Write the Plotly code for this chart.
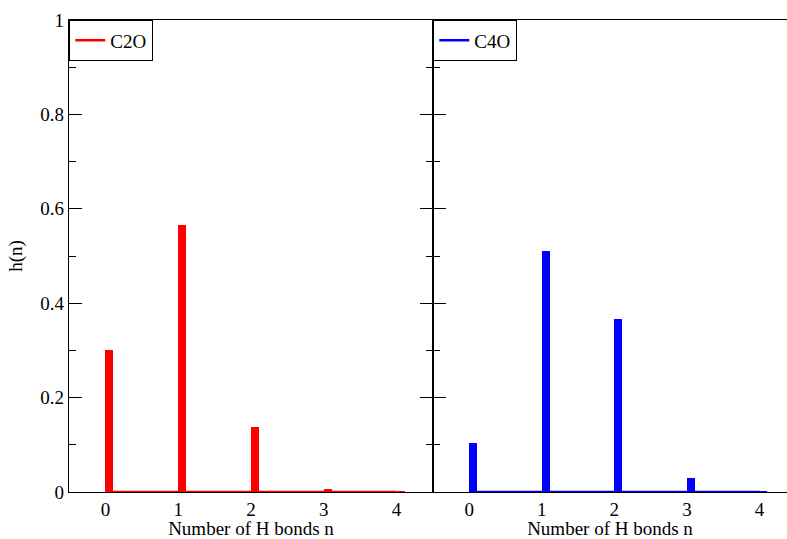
import plotly.graph_objects as go

n_bonds = [0, 1, 2, 3, 4]
h_c2o = [0.300, 0.565, 0.138, 0.007, 0.001]
h_c4o = [0.104, 0.510, 0.367, 0.029, 0.001]
zero_line = [0, 0, 0, 0, 0]
y_ticks = [0, 0.2, 0.4, 0.6, 0.8, 1]
y_tick_labels = ["0", "0.2", "0.4", "0.6", "0.8", "1"]

RED = "#ff0000"
BLUE = "#0000ff"
FONT = "Liberation Serif, Times New Roman, serif"
FS = 19
TFS = 19

fig = go.Figure()
fig.add_trace(go.Bar(x=n_bonds, y=h_c2o, marker=dict(color=RED, line=dict(width=0)),
                     width=0.11, offset=0, showlegend=False, xaxis="x", yaxis="y"))
fig.add_trace(go.Scatter(x=n_bonds, y=zero_line, mode="lines", name="C2O", cliponaxis=False,
                         line=dict(color=RED, width=2.5), xaxis="x", yaxis="y", legend="legend"))
fig.add_trace(go.Bar(x=n_bonds, y=h_c4o, marker=dict(color=BLUE, line=dict(width=0)),
                     width=0.11, offset=0, showlegend=False, xaxis="x2", yaxis="y2"))
fig.add_trace(go.Scatter(x=n_bonds, y=zero_line, mode="lines", name="C4O", cliponaxis=False,
                         line=dict(color=BLUE, width=2.5), xaxis="x2", yaxis="y2", legend="legend2"))

split = 364 / 718

axis_common = dict(showline=True, linecolor="black", linewidth=1.3, showgrid=False,
                   zeroline=False, automargin=False, layer="below traces",
                   tickfont=dict(family=FONT, size=FS, color="black"))

fig.update_layout(
    width=787, height=539,
    margin=dict(l=69, r=0, t=20, b=47),
    paper_bgcolor="white", plot_bgcolor="white",
    font=dict(family=FONT, color="black", size=FS),
    bargap=0,
    xaxis=dict(domain=[0, split], range=[-0.5, 4.5], tickvals=n_bonds, ticks="",
               mirror=True, title=dict(text="Number of H bonds n", font=dict(family=FONT, size=TFS), standoff=0),
               **axis_common),
    xaxis2=dict(domain=[split, 1], range=[-0.5, 4.38], tickvals=n_bonds, ticks="",
                mirror=True, anchor="y2",
                title=dict(text="Number of H bonds n", font=dict(family=FONT, size=TFS), standoff=0),
                **axis_common),
    yaxis=dict(range=[0, 1], tickvals=y_ticks, ticktext=y_tick_labels, ticks="inside",
               ticklen=13, tickwidth=1.3, tickcolor="black", mirror="ticks",
               minor=dict(dtick=0.1, ticks="inside", ticklen=7, tickwidth=1.3, tickcolor="black"),
               title=dict(text="h(n)", font=dict(family=FONT, size=TFS), standoff=12),
               **axis_common),
    yaxis2=dict(range=[0, 1], tickvals=y_ticks, showticklabels=False, ticks="inside",
                ticklen=13, tickwidth=1.3, tickcolor="black", anchor="x2",
                minor=dict(dtick=0.1, ticks="inside", ticklen=7, tickwidth=1.3, tickcolor="black"),
                **axis_common),
    legend=dict(x=0, y=1, xanchor="left", yanchor="top", bgcolor="white",
                bordercolor="black", borderwidth=1.3, itemwidth=30,
                font=dict(family=FONT, size=FS, color="black"), tracegroupgap=0),
    legend2=dict(x=split, y=1, xanchor="left", yanchor="top", bgcolor="white",
                 bordercolor="black", borderwidth=1.3, itemwidth=30,
                 font=dict(family=FONT, size=FS, color="black"), tracegroupgap=0),
)

fig.write_html("out.html", config={"displayModeBar": False},
               post_script="document.body.style.margin='0px';")
